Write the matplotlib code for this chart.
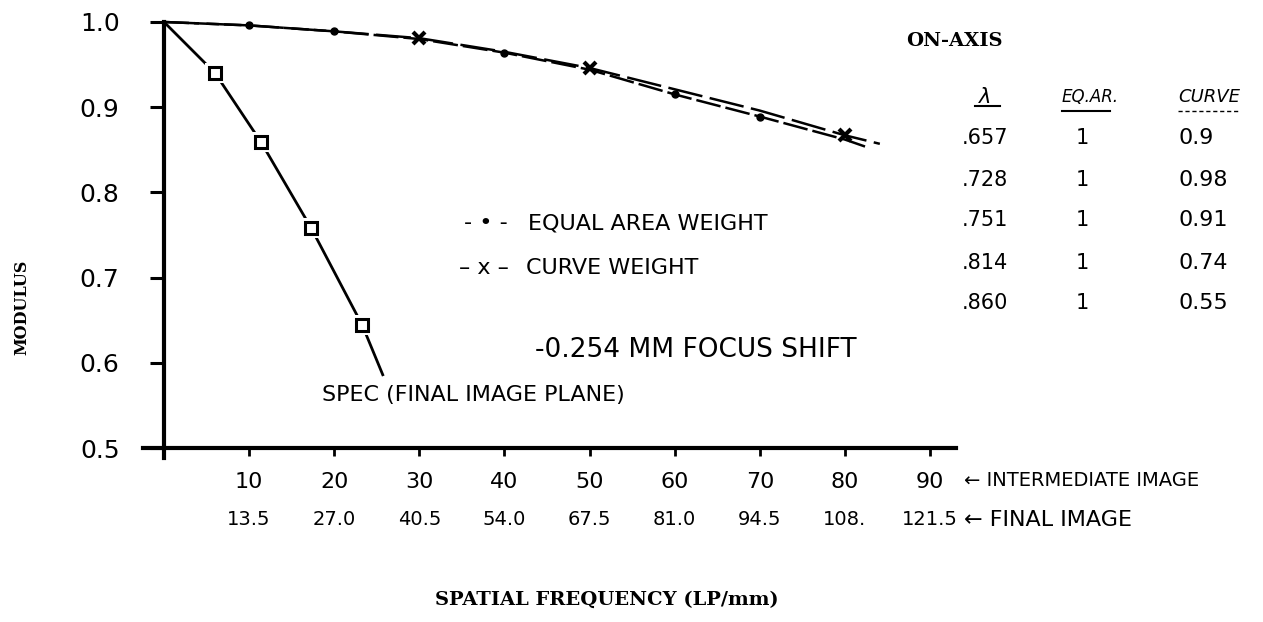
import matplotlib.pyplot as plt
import matplotlib.transforms as mtransforms

# axis ticks
freq_ticks = [10, 20, 30, 40, 50, 60, 70, 80, 90]
final_labels = ["13.5", "27.0", "40.5", "54.0", "67.5", "81.0", "94.5", "108.", "121.5"]
modulus_ticks = [0.5, 0.6, 0.7, 0.8, 0.9, 1.0]
modulus_labels = ["0.5", "0.6", "0.7", "0.8", "0.9", "1.0"]

# SPEC (final image plane) curve
spec_freq = [0, 6.0, 11.4, 17.3, 23.3, 25.7]
spec_mod = [1.0, 0.940, 0.859, 0.758, 0.644, 0.586]
spec_marks = [1, 2, 3, 4]

# equal area weight curve
eq_freq = [0, 10, 20, 30, 40, 50, 60, 70, 80, 82.6]
eq_mod = [1.0, 0.996, 0.989, 0.980, 0.964, 0.944, 0.915, 0.889, 0.862, 0.853]
eq_marks = [1, 2, 4, 6, 7]

# curve weight curve
cw_freq = [0, 10, 20, 30, 40, 50, 60, 70, 80, 84.1]
cw_mod = [1.0, 0.996, 0.989, 0.981, 0.965, 0.946, 0.921, 0.896, 0.867, 0.857]
cw_marks = [3, 5, 8]

# on-axis table
wavelengths = [".657", ".728", ".751", ".814", ".860"]
eq_area_wts = ["1", "1", "1", "1", "1"]
curve_wts = ["0.9", "0.98", "0.91", "0.74", "0.55"]

hand = "DejaVu Sans"
typew = "DejaVu Serif"

fig = plt.figure(figsize=(12.63, 6.22), dpi=100)
ax = fig.add_axes([0.1130, 0.2633, 0.6436, 0.7082])
ax.set_xlim(-2.5, 93)
ax.set_ylim(0.488, 1.005)

for s in ["top", "right"]:
    ax.spines[s].set_visible(False)
ax.spines["left"].set_position(("data", 0))
ax.spines["bottom"].set_position(("data", 0.5))
ax.spines["left"].set_linewidth(3)
ax.spines["bottom"].set_linewidth(3)
ax.spines["left"].set_bounds(0.488, 1.0)

ax.set_xticks(freq_ticks)
ax.set_xticklabels([str(t) for t in freq_ticks], fontfamily=hand, fontsize=16)
ax.set_yticks(modulus_ticks)
ax.set_yticklabels(modulus_labels, fontfamily=hand, fontsize=18)
ax.tick_params(axis="x", direction="out", length=6, width=2, pad=11)
ax.tick_params(axis="y", direction="out", length=10, width=2.2, pad=22)

# second row of frequency labels (final image)
trans = mtransforms.blended_transform_factory(ax.transData, ax.transAxes)
for f, lab in zip(freq_ticks, final_labels):
    ax.text(f, -0.14, lab, transform=trans, ha="center", va="center",
            fontfamily=hand, fontsize=14)

ax.text(1.01, -0.05, "\u2190 INTERMEDIATE IMAGE", transform=ax.transAxes,
        ha="left", va="center", fontfamily=hand, fontsize=14)
ax.text(1.01, -0.14, "\u2190 FINAL IMAGE", transform=ax.transAxes,
        ha="left", va="center", fontfamily=hand, fontsize=16)

# curves
ax.plot(eq_freq, eq_mod, color="black", lw=1.8, dashes=(10, 2),
        clip_on=False, zorder=3)
ax.plot([eq_freq[i] for i in eq_marks], [eq_mod[i] for i in eq_marks],
        ls="none", marker="o", ms=5, color="black", clip_on=False, zorder=4)
ax.plot(cw_freq, cw_mod, color="black", lw=1.8, dashes=(14, 3),
        clip_on=False, zorder=3)
ax.plot([cw_freq[i] for i in cw_marks], [cw_mod[i] for i in cw_marks],
        ls="none", marker="x", ms=9, mew=3, color="black", clip_on=False, zorder=4)

ax.plot(spec_freq, spec_mod, color="black", lw=2, clip_on=False, zorder=3)
sx = [spec_freq[i] for i in spec_marks]
sy = [spec_mod[i] for i in spec_marks]
ax.plot(sx, sy, ls="none", marker="s", ms=14, mew=0, color="white", zorder=4)
ax.plot(sx, sy, ls="none", marker="s", ms=8, mew=2.2, mfc="white",
        mec="black", zorder=5)

# annotations in the plot area
ax.text(35.2, 0.764, "- \u2022 -", fontfamily=hand, fontsize=16, ha="left", va="center")
ax.text(42.8, 0.764, "EQUAL AREA WEIGHT", fontfamily=hand, fontsize=16,
        ha="left", va="center")
ax.text(34.6, 0.711, "\u2013 x \u2013", fontfamily=hand, fontsize=16, ha="left", va="center")
ax.text(42.5, 0.711, "CURVE WEIGHT", fontfamily=hand, fontsize=16,
        ha="left", va="center")
ax.text(43.6, 0.615, "-0.254 MM FOCUS SHIFT", fontfamily=hand, fontsize=19,
        ha="left", va="center")
ax.text(18.6, 0.562, "SPEC (FINAL IMAGE PLANE)", fontfamily=hand, fontsize=16,
        ha="left", va="center")

# axis titles
fig.text(607 / 1263, 1 - 600 / 622, "SPATIAL FREQUENCY (LP/mm)", fontfamily=typew,
         fontweight="bold", fontsize=14, ha="center", va="center")
fig.text(22 / 1263, 1 - 307 / 622, "MODULUS", fontfamily=typew, fontweight="bold",
         fontsize=11.5, ha="center", va="center", rotation=90)

# on-axis table
fig.text(906 / 1263, 1 - 41 / 622, "ON-AXIS", fontfamily=typew, fontweight="bold",
         fontsize=14, ha="left", va="center")
col_x = [985, 1090, 1178]
headers = ["\u03bb", "EQ.AR.", "CURVE"]
head_sizes = [15, 12, 13]
for x, h, fs in zip(col_x, headers, head_sizes):
    ha = "left" if x == 1178 else "center"
    fig.text(x / 1263, 1 - 97 / 622, h, fontfamily=hand, fontsize=fs,
             ha=ha, va="center", style="italic")
fig.add_artist(plt.Line2D([975 / 1263, 1000 / 1263], [1 - 106 / 622] * 2,
                          color="black", lw=1.5))
fig.add_artist(plt.Line2D([1062 / 1263, 1110 / 1263], [1 - 111 / 622] * 2,
                          color="black", lw=1.5))
fig.add_artist(plt.Line2D([1178 / 1263, 1240 / 1263], [1 - 111 / 622] * 2,
                          color="black", lw=1, ls=(0, (3, 2))))
row_y = [138, 180, 220, 263, 303]
for y, lam, ea, cv in zip(row_y, wavelengths, eq_area_wts, curve_wts):
    fig.text(985 / 1263, 1 - y / 622, lam, fontfamily=hand, fontsize=15,
             ha="center", va="center")
    fig.text(1082 / 1263, 1 - y / 622, ea, fontfamily=hand, fontsize=15,
             ha="center", va="center")
    fig.text(1178 / 1263, 1 - y / 622, cv, fontfamily=hand, fontsize=16,
             ha="left", va="center")

fig.savefig("out.png", dpi=100, facecolor="white")
